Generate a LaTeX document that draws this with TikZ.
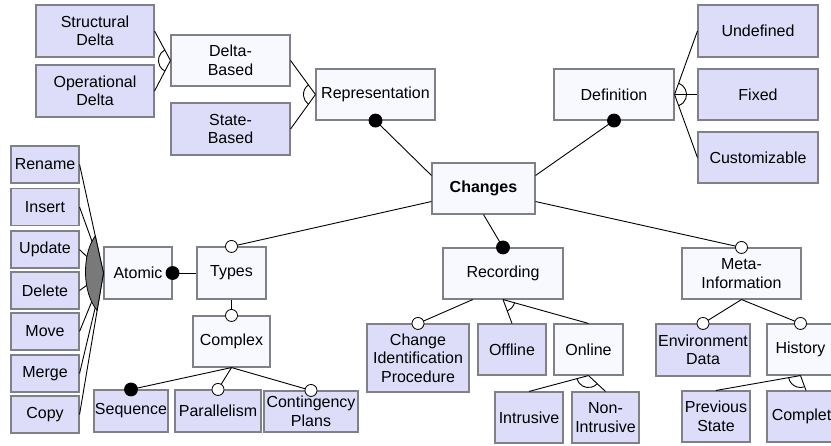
\documentclass[tikz,border=0pt]{standalone}
\usepackage{fontspec}
\setmainfont{Liberation Sans}
\usetikzlibrary{calc}

\definecolor{leaffill}{RGB}{221,221,250}
\definecolor{absfill}{RGB}{248,248,255}
\definecolor{boxline}{RGB}{128,128,136}

\tikzset{
  feat/.style={draw=boxline, line width=1.1pt, align=center, inner sep=0pt,
               font=\fontsize{16}{18.5}\selectfont},
  leaf/.style={feat, fill=leaffill},
  abst/.style={feat, fill=absfill},
  sz/.style 2 args={minimum width=#1pt, minimum height=#2pt},
  conn/.style={line width=0.9pt, draw=black},
  mand/.style={circle, fill=black, draw=black, line width=0.8pt, inner sep=0pt, minimum size=13pt},
  opt/.style={circle, fill=white, draw=black, line width=0.8pt, inner sep=0pt, minimum size=12pt},
  orfill/.style={fill=gray!95!black, draw=black, line width=0.8pt},
}

% open arc of an alternative group: centred at the parent point #1,
% running between the connectors to #2 and #3
\newcommand\grouparc[3]{%
  \draw[conn] let \p1=($(#2)-(#1)$), \p2=($(#3)-(#1)$),
      \n1={atan2(\y1,\x1)}, \n2={atan2(\y2,\x2)},
      \n3={mod(\n2-\n1+540,360)-180}
    in ($(#1)+(\n1:12pt)$) arc[start angle=\n1, delta angle=\n3, radius=12pt];}

\begin{document}
\begin{tikzpicture}[x=1pt, y=-1pt]
\useasboundingbox (0,0) rectangle (831,445);

% ---------- features ----------
\node[abst, sz={103}{51}, font=\fontsize{16}{18.5}\selectfont\bfseries] (changes) at (483.5,188.5) {Changes};

\node[abst, sz={119}{51}] (representation) at (375.5,94.5) {Representation};
\node[abst, sz={119}{51}] (deltabased) at (230.5,60.5) {Delta-\\Based};
\node[leaf, sz={119}{52}] (statebased) at (230.5,129) {State-\\Based};
\node[leaf, sz={118}{52}] (structural) at (95,31) {Structural\\Delta};
\node[leaf, sz={118}{52}] (operational) at (95,91) {Operational\\Delta};

\node[abst, sz={120}{51}] (definition) at (614,94.5) {Definition};
\node[leaf, sz={120}{52}] (undefined) at (758,31) {Undefined};
\node[leaf, sz={120}{51}] (fixed) at (758,94.5) {Fixed};
\node[leaf, sz={120}{51}] (customizable) at (758,157.5) {Customizable};

\node[abst, sz={69}{52}] (types) at (231.5,273) {Types};
\node[abst, sz={68}{52}] (atomic) at (138,273) {Atomic};
\node[abst, sz={77}{51}] (complex) at (231.5,341.5) {Complex};
\node[leaf, sz={68}{37}] (rename) at (45,164.5) {Rename};
\node[leaf, sz={68}{37}] (insert) at (45,207) {Insert};
\node[leaf, sz={68}{37}] (update) at (45,249.5) {Update};
\node[leaf, sz={68}{37}] (delete) at (45,290.5) {Delete};
\node[leaf, sz={68}{37}] (move) at (45,331.5) {Move};
\node[leaf, sz={68}{37}] (merge) at (45,373.5) {Merge};
\node[leaf, sz={68}{37}] (copy) at (45,414.5) {Copy};
\node[leaf, sz={74}{42}] (sequence) at (131,411) {Sequence};
\node[leaf, sz={86}{42}] (parallelism) at (218,411) {Parallelism};
\node[leaf, sz={94}{41}] (contingency) at (311,411.5) {Contingency\\Plans};

\node[abst, sz={120}{51}] (recording) at (503,273.5) {Recording};
\node[leaf, sz={102}{68}] (cip) at (418,358) {Change\\Identification\\Procedure};
\node[leaf, sz={68}{51}] (offline) at (512,349.5) {Offline};
\node[abst, sz={69}{51}] (online) at (588.5,349.5) {Online};
\node[leaf, sz={68}{51}] (intrusive) at (529,417.5) {Intrusive};
\node[leaf, sz={67}{51}] (nonintrusive) at (605.5,417.5) {Non-\\Intrusive};

\node[abst, sz={119}{51}] (meta) at (741.5,273.5) {Meta-\\Information};
\node[leaf, sz={94}{52}] (envdata) at (703,350) {Environment\\Data};
\node[abst, sz={67}{51}] (history) at (800.5,349.5) {History};
\node[leaf, sz={68}{51}] (prevstate) at (716,416.5) {Previous\\State};
\node[leaf, sz={78}{51}] (complete) at (806,416.5) {Complete};

% attachment points on the sides of the root and of Recording
\coordinate (chWu) at ($(changes.north west)!0.25!(changes.south west)$);
\coordinate (chWd) at ($(changes.north west)!0.75!(changes.south west)$);
\coordinate (chEu) at ($(changes.north east)!0.25!(changes.south east)$);
\coordinate (chEd) at ($(changes.north east)!0.75!(changes.south east)$);
\coordinate (recSl) at ($(recording.south west)!0.25!(recording.south east)$);

% ---------- connectors ----------
\draw[conn] (representation.south) -- (chWu);
\draw[conn] (definition.south) -- (chEu);
\draw[conn] (types.north) -- (chWd);
\draw[conn] (meta.north) -- (chEd);
\draw[conn] (changes.south) -- (recording.north);

% representation group
\draw[conn] (structural.east) -- (deltabased.west);
\draw[conn] (operational.east) -- (deltabased.west);
\grouparc{deltabased.west}{structural.east}{operational.east}
\draw[conn] (deltabased.east) -- (representation.west);
\draw[conn] (statebased.east) -- (representation.west);
\grouparc{representation.west}{deltabased.east}{statebased.east}

% definition group
\draw[conn] (definition.east) -- (undefined.west);
\draw[conn] (definition.east) -- (fixed.west);
\draw[conn] (definition.east) -- (customizable.west);
\grouparc{definition.east}{undefined.west}{customizable.west}

% types
\draw[conn] (atomic.east) -- (types.west);
\draw[conn] (types.south) -- (complex.north);
\draw[conn] (complex.south) -- (sequence.north);
\draw[conn] (complex.south) -- (parallelism.north);
\draw[conn] (complex.south) -- (contingency.north);

% atomic operations (or group)
\foreach \op in {rename,insert,update,delete,move,merge,copy}
  \draw[conn] (\op.east) -- (atomic.west);
\filldraw[orfill] (atomic.west) -- ($(atomic.west)!38pt!(rename.east)$)
   .. controls ($(atomic.west)+(-22,-18)$) and ($(atomic.west)+(-21,20)$) ..
   ($(atomic.west)!38pt!(copy.east)$) -- cycle;

% recording
\draw[conn] (recSl) -- (cip.north);
\draw[conn] (recording.south) -- (offline.north);
\draw[conn] (recording.south) -- (online.north);
\grouparc{recording.south}{offline.north}{online.north}
\draw[conn] (online.south) -- (intrusive.north);
\draw[conn] (online.south) -- (nonintrusive.north);
\grouparc{online.south}{intrusive.north}{nonintrusive.north}

% meta-information
\draw[conn] (meta.south) -- (envdata.north);
\draw[conn] (meta.south) -- (history.north);
\draw[conn] (history.south) -- (prevstate.north);
\draw[conn] (history.south) -- (complete.north);
\grouparc{history.south}{prevstate.north}{complete.north}

% ---------- mandatory / optional markers ----------
\node[mand] (mRep) at (representation.south) {};
\node[mand] (mDef) at (definition.south) {};
\node[mand] (mRec) at (recording.north) {};
\node[mand] (mAto) at (atomic.east) {};
\node[mand] (mSeq) at (sequence.north) {};
\node[opt] (oTyp) at (types.north) {};
\node[opt] (oMet) at (meta.north) {};
\node[opt] (oCom) at (complex.north) {};
\node[opt] (oPar) at (parallelism.north) {};
\node[opt] (oCon) at (contingency.north) {};
\node[opt] (oCip) at (cip.north) {};
\node[opt] (oEnv) at (envdata.north) {};
\node[opt] (oHis) at (history.north) {};
\end{tikzpicture}
\end{document}
